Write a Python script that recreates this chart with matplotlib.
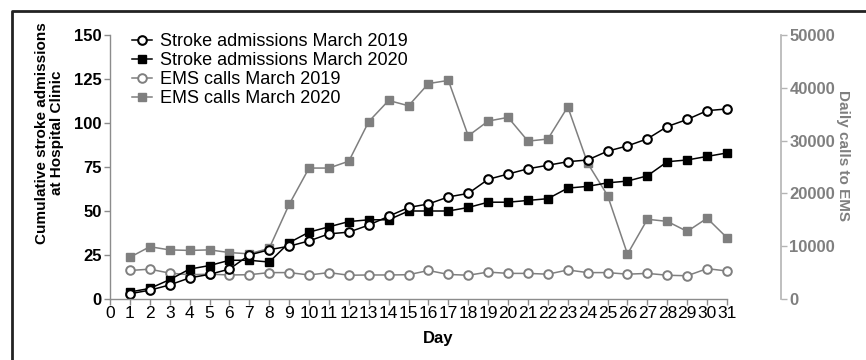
import numpy as np
import matplotlib
matplotlib.use('Agg')
import matplotlib.pyplot as plt
from matplotlib.lines import Line2D

plt.rcParams['font.family'] = ['Liberation Sans', 'DejaVu Sans']

# data
days = list(range(1, 32))
stroke_2019 = [3, 5, 8, 12, 14, 17, 25, 28, 30, 33, 37, 38, 42, 47, 52, 54,
               58, 60, 68, 71, 74, 76, 78, 79, 84, 87, 91, 98, 102, 107, 108]
stroke_2020 = [4, 6, 11, 17, 19, 22, 22, 21, 32, 38, 41, 44, 45, 45, 50, 50,
               50, 52, 55, 55, 56, 57, 63, 64, 66, 67, 70, 78, 79, 81, 83]
ems_2019 = [5400, 5650, 4900, 4600, 4700, 4550, 4600, 5000, 5000, 4550, 5000,
            4500, 4550, 4550, 4600, 5400, 4650, 4500, 5100, 4850, 4850, 4700,
            5500, 5000, 5000, 4700, 4850, 4500, 4400, 5750, 5300]
ems_2020 = [7900, 9900, 9300, 9200, 9300, 8800, 8550, 9600, 17900, 24800,
            24800, 26100, 33600, 37600, 36600, 40800, 41400, 30900, 33700,
            34400, 29900, 30300, 36400, 25700, 19600, 8500, 15100, 14700,
            12800, 15300, 11600]

labels = ['Stroke admissions March 2019', 'Stroke admissions March 2020',
          'EMS calls March 2019', 'EMS calls March 2020']
xticks = list(range(0, 32))
yticks_left = [0, 25, 50, 75, 100, 125, 150]
yticks_right = [0, 10000, 20000, 30000, 40000, 50000]

gray = '#7f7f7f'
spine_gray = '#8c8c8c'

fig = plt.figure(figsize=(8.66, 3.6), dpi=100)
W, H = 866, 360
ax = fig.add_axes([110 / W, 1 - 299 / H, 617 / W, 264 / H])
ax2 = ax.twinx()
ax.set_zorder(ax2.get_zorder() + 1)
ax.patch.set_visible(False)

# spines first (set_position resets the ticks)
for s in ['top', 'right']:
    ax.spines[s].set_visible(False)
for s in ['top', 'left', 'bottom']:
    ax2.spines[s].set_visible(False)
ax.spines['left'].set_color(spine_gray)
ax.spines['bottom'].set_color(spine_gray)
ax.spines['left'].set_linewidth(1.0)
ax.spines['bottom'].set_linewidth(1.0)
ax2.spines['right'].set_position(('outward', 39))
ax2.spines['right'].set_color('#b4b4b4')
ax2.spines['right'].set_linewidth(1.2)

# EMS calls (right axis)
h3, = ax2.plot(days, ems_2019, color=gray, marker='o', ms=6.2, mfc='white',
               mec=gray, mew=1.4, lw=1.1, clip_on=False)
h4, = ax2.plot(days, ems_2020, color=gray, marker='s', ms=5.3, mfc=gray,
               mec=gray, lw=1.1, clip_on=False)

# stroke admissions (left axis)
h2, = ax.plot(days, stroke_2020, color='black', marker='s', ms=5.3,
              mfc='black', lw=1.1, clip_on=False)
h1, = ax.plot(days, stroke_2019, color='black', marker='o', ms=6.2,
              mfc='white', mec='black', mew=1.5, lw=1.1, clip_on=False)

ax.set_xlim(0, 31)
ax.set_ylim(0, 150)
ax2.set_ylim(0, 50000)

ax.tick_params(axis='both', direction='out', length=4, width=1.0,
               color=spine_gray, pad=2)
ax.tick_params(axis='x', pad=1)
ax2.tick_params(axis='y', direction='out', length=4, width=1.0,
                color='#b4b4b4', pad=2)

ax.set_xticks(xticks)
ax.set_xticklabels([str(t) for t in xticks], fontsize=12.5)
ax.set_yticks(yticks_left)
ax.set_yticklabels([str(t) for t in yticks_left], fontsize=12, fontweight='bold')
ax2.set_yticks(yticks_right)
ax2.set_yticklabels([str(t) for t in yticks_right], fontsize=12,
                    fontweight='bold', color=gray)

# axis titles
fig.text(49.5 / W, 1 - 133 / H,
         'Cumulative stroke admissions\nat Hospital Clinic',
         rotation=90, ha='center', va='center', multialignment='center',
         fontsize=11, fontweight='bold', linespacing=1.1)
fig.text(843 / W, 1 - 156 / H, 'Daily calls to EMS', rotation=270,
         ha='center', va='center', fontsize=11, fontweight='bold', color=gray)
fig.text(438 / W, 1 - 339 / H, 'Day', ha='center', va='center',
         fontsize=12, fontweight='bold')

ax.legend([h1, h2, h3, h4], labels, loc='upper left',
          bbox_to_anchor=((132 - 110) / 617, 1.006), frameon=False,
          fontsize=13, borderaxespad=0, borderpad=0, labelspacing=0.1,
          handlelength=1.1, handletextpad=0.45)

# outer frame (only top and left edges are visible in the crop)
fig.add_artist(Line2D([12 / W, 12 / W, 1.0], [0.0, 1 - 10.7 / H, 1 - 10.7 / H],
                      transform=fig.transFigure, color='#222222', lw=2.0))

fig.savefig('out.png', dpi=100)
